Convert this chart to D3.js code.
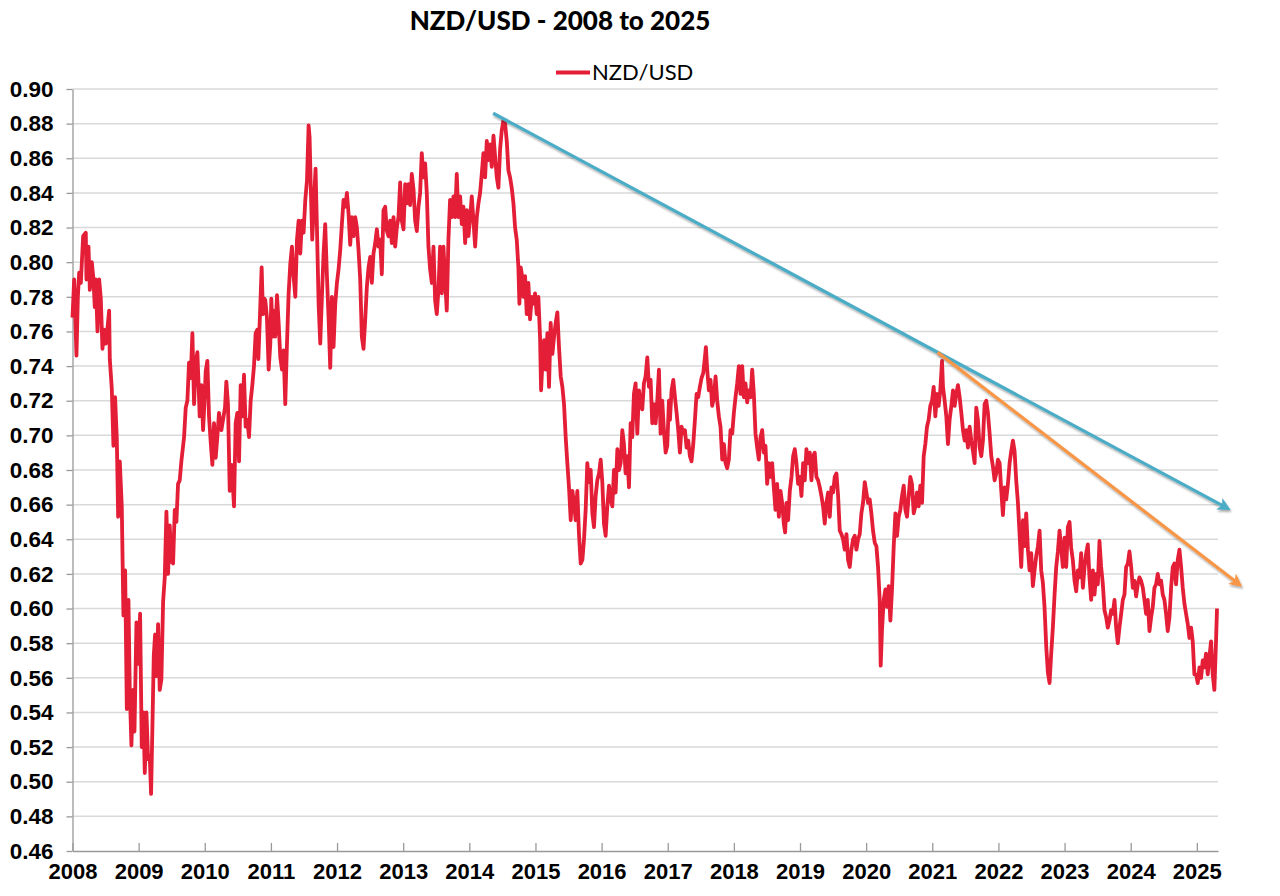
<!DOCTYPE html>
<html>
<head>
<meta charset="utf-8">
<script src="https://cdn.jsdelivr.net/npm/d3@7"></script>
<style>
  html, body { margin: 0; padding: 0; background: #fff; }
  svg { display: block; font-family: Lato, "Open Sans", sans-serif; }
</style>
</head>
<body>
<div id="chart"></div>
<script>
// decimal years
const dates = [
2008.000,2008.025,2008.060,2008.081,2008.101,2008.126,2008.161,2008.201,2008.211,2008.242,2008.262,2008.292,2008.317,2008.337,2008.352,2008.378,2008.403,2008.428,2008.453,2008.478,
2008.504,2008.529,2008.554,2008.564,2008.594,2008.619,2008.644,2008.670,2008.690,2008.715,2008.745,2008.770,2008.796,2008.821,2008.846,2008.866,2008.891,2008.916,2008.937,2008.967,
2008.992,2009.022,2009.047,2009.072,2009.093,2009.118,2009.143,2009.168,2009.188,2009.208,2009.229,2009.249,2009.269,2009.294,2009.319,2009.344,2009.370,2009.395,2009.420,2009.445,
2009.470,2009.495,2009.521,2009.546,2009.571,2009.596,2009.621,2009.646,2009.687,2009.712,2009.737,2009.762,2009.787,2009.813,2009.838,2009.863,2009.888,2009.903,2009.923,2009.949,
2009.974,2009.994,2010.014,2010.039,2010.064,2010.090,2010.115,2010.140,2010.165,2010.190,2010.215,2010.251,2010.276,2010.306,2010.326,2010.351,2010.377,2010.407,2010.442,2010.467,
2010.492,2010.518,2010.543,2010.568,2010.593,2010.618,2010.643,2010.669,2010.694,2010.719,2010.744,2010.769,2010.794,2010.810,2010.835,2010.860,2010.880,2010.900,
2010.915,2010.940,2010.966,2010.991,2011.006,2011.026,2011.041,2011.066,2011.092,2011.117,2011.142,2011.167,2011.192,2011.217,2011.243,2011.268,2011.293,2011.318,2011.343,2011.369,
2011.394,2011.419,2011.444,2011.469,2011.494,2011.520,2011.545,2011.570,2011.585,2011.605,2011.625,2011.650,2011.675,2011.696,2011.721,2011.746,2011.771,2011.796,2011.821,2011.847,
2011.872,2011.897,2011.922,2011.947,2011.973,2011.998,2012.023,2012.048,2012.073,2012.098,2012.124,2012.149,2012.174,2012.199,2012.224,2012.249,2012.275,2012.300,2012.325,2012.350,
2012.375,2012.400,2012.426,2012.451,2012.476,2012.501,2012.526,2012.551,2012.577,2012.602,2012.627,2012.652,2012.677,2012.702,2012.728,2012.753,2012.778,2012.803,2012.828,2012.854,
2012.879,2012.904,2012.929,2012.954,2012.979,2013.005,2013.030,2013.055,2013.080,2013.105,2013.130,2013.156,2013.181,2013.206,2013.231,2013.256,2013.281,2013.307,2013.332,2013.357,
2013.382,2013.407,2013.433,2013.458,2013.483,2013.508,2013.533,2013.558,2013.584,2013.609,2013.634,2013.659,2013.684,2013.709,2013.735,2013.760,2013.785,2013.810,2013.835,
2013.861,2013.886,2013.911,2013.937,2013.962,2013.987,2014.012,2014.037,2014.062,2014.088,2014.113,2014.138,2014.163,2014.188,2014.213,2014.239,2014.264,2014.289,2014.314,2014.339,
2014.365,2014.390,2014.415,2014.440,2014.465,2014.490,2014.516,2014.541,2014.566,2014.591,2014.616,2014.641,2014.667,2014.692,2014.717,2014.742,2014.757,2014.777,2014.798,2014.818,
2014.843,2014.868,2014.893,2014.918,2014.944,2014.969,2014.994,2015.019,2015.044,2015.069,2015.085,2015.105,2015.130,2015.155,2015.180,2015.205,2015.230,2015.256,2015.281,2015.306,
2015.331,2015.356,2015.382,2015.407,2015.432,2015.457,2015.482,2015.507,2015.533,2015.558,2015.583,2015.608,2015.633,2015.658,2015.684,2015.709,2015.734,2015.759,2015.784,2015.810,
2015.835,2015.860,2015.885,2015.910,2015.935,2015.961,2015.986,2016.011,2016.036,2016.061,2016.086,2016.112,2016.137,2016.162,2016.187,2016.212,2016.238,2016.263,2016.288,2016.313,
2016.338,2016.363,2016.389,2016.414,2016.439,2016.464,2016.489,2016.514,2016.540,2016.565,2016.590,2016.615,2016.640,2016.665,2016.691,2016.716,2016.741,2016.766,2016.791,2016.817,
2016.842,2016.867,2016.892,2016.917,2016.942,2016.968,2016.993,2017.018,
2017.033,2017.058,2017.084,2017.109,2017.134,2017.159,2017.184,2017.209,2017.235,2017.260,2017.285,2017.310,2017.335,2017.360,2017.386,2017.411,2017.436,2017.461,2017.486,2017.511,
2017.537,2017.562,2017.577,2017.597,2017.622,2017.647,2017.672,2017.698,2017.723,2017.748,2017.773,2017.798,2017.824,2017.849,2017.874,2017.899,2017.924,2017.949,2017.975,2018.000,
2018.025,2018.050,2018.075,2018.100,2018.126,2018.151,2018.176,2018.201,2018.226,2018.252,2018.277,2018.302,2018.327,2018.352,2018.377,2018.403,2018.428,2018.453,2018.478,2018.503,
2018.528,2018.554,2018.579,2018.604,2018.629,2018.654,2018.680,2018.705,2018.730,2018.755,2018.775,2018.795,2018.820,2018.846,2018.871,2018.896,2018.921,2018.946,2018.971,2018.997,
2019.022,2019.047,2019.072,2019.097,2019.123,2019.148,2019.173,2019.198,2019.223,2019.248,2019.274,2019.299,2019.324,2019.349,2019.374,2019.399,2019.425,2019.450,2019.475,2019.500,
2019.525,2019.551,2019.576,2019.601,2019.626,2019.651,2019.676,2019.702,2019.727,2019.752,2019.777,2019.802,2019.827,2019.853,2019.878,2019.903,
2019.928,2019.953,2019.979,2020.004,2020.029,2020.054,2020.079,2020.104,2020.130,2020.155,2020.180,2020.205,2020.220,2020.240,2020.266,2020.291,2020.316,2020.341,2020.366,2020.391,
2020.417,2020.442,2020.467,2020.492,2020.517,2020.542,2020.568,2020.593,2020.618,2020.643,2020.668,2020.693,2020.719,2020.744,2020.769,2020.794,2020.819,2020.845,2020.870,2020.895,
2020.920,2020.945,2020.970,2020.996,2021.021,2021.046,2021.071,2021.096,2021.121,2021.147,2021.162,2021.187,2021.212,2021.237,2021.262,2021.288,2021.313,2021.338,2021.363,2021.388,
2021.414,2021.439,2021.464,2021.489,2021.514,2021.539,2021.565,2021.590,2021.615,2021.640,2021.665,2021.690,2021.716,2021.741,2021.766,2021.791,2021.816,2021.841,2021.867,2021.892,
2021.917,2021.942,2021.967,2021.992,2022.018,2022.043,2022.068,2022.093,2022.118,2022.144,2022.169,2022.194,2022.219,2022.244,2022.269,2022.295,2022.320,2022.345,2022.370,2022.395,
2022.420,2022.446,2022.471,2022.496,2022.521,2022.546,2022.571,2022.597,2022.622,2022.647,2022.672,2022.697,2022.723,2022.748,2022.773,
2022.798,2022.823,2022.849,2022.874,2022.899,2022.924,2022.949,2022.974,2023.000,2023.025,2023.050,2023.075,2023.100,2023.125,2023.151,2023.176,2023.201,2023.226,2023.251,2023.277,
2023.302,2023.327,2023.352,2023.377,2023.402,2023.428,2023.453,2023.478,2023.503,2023.528,2023.553,2023.579,2023.604,2023.629,2023.654,2023.679,2023.704,2023.730,2023.755,2023.780,
2023.805,2023.830,2023.856,2023.881,2023.906,2023.931,2023.956,2023.981,2024.007,2024.032,2024.057,2024.082,2024.107,2024.132,2024.158,2024.183,2024.208,2024.233,2024.258,2024.284,
2024.309,2024.334,2024.359,2024.384,2024.409,2024.435,2024.460,2024.485,2024.510,2024.535,2024.560,2024.586,2024.611,2024.636,2024.661,2024.686,2024.711,2024.737,2024.762,2024.787,
2024.812,2024.837,2024.863,2024.888,2024.913,2024.938,2024.963,2024.988,2025.014,2025.039,2025.064,2025.089,2025.114,2025.139,2025.165,2025.190,2025.215,2025.240,2025.265,2025.290,
2025.305
];

const nzdusd = [
0.768,0.790,0.746,0.780,0.794,0.788,0.815,0.817,0.790,0.809,0.784,0.800,0.790,0.774,0.790,0.760,0.790,0.779,0.750,0.761,
0.753,0.762,0.772,0.744,0.727,0.694,0.722,0.698,0.653,0.685,0.659,0.596,0.622,0.542,0.605,0.553,0.521,0.553,0.529,0.592,
0.568,0.597,0.520,0.540,0.505,0.540,0.513,0.515,0.493,0.531,0.573,0.585,0.561,0.591,0.553,0.559,0.604,0.618,0.656,0.620,
0.648,0.627,0.626,0.657,0.650,0.672,0.674,0.685,0.699,0.716,0.720,0.742,0.733,0.759,0.718,0.742,0.748,0.733,0.711,0.729,
0.703,0.718,0.737,0.743,0.711,0.696,0.683,0.707,0.687,0.699,0.713,0.703,0.709,0.716,0.731,0.718,0.668,0.683,0.659,0.707,
0.713,0.685,0.729,0.711,0.735,0.705,0.709,0.699,0.720,0.729,0.740,0.759,0.761,0.744,0.770,0.797,0.770,0.779,
0.778,0.768,0.738,0.753,0.779,0.757,0.772,0.757,0.781,0.765,0.745,0.738,0.749,0.718,0.753,0.782,0.799,0.809,0.792,0.780,
0.813,0.824,0.805,0.824,0.817,0.836,0.847,0.879,0.872,0.840,0.813,0.834,0.854,0.820,0.776,0.753,0.780,0.805,0.822,0.792,
0.768,0.739,0.780,0.751,0.776,0.788,0.796,0.807,0.822,0.836,0.832,0.840,0.828,0.810,0.826,0.815,0.826,0.820,0.807,0.790,
0.757,0.750,0.767,0.786,0.797,0.803,0.788,0.805,0.811,0.819,0.809,0.813,0.793,0.830,0.832,0.818,0.815,0.824,0.811,0.826,
0.809,0.820,0.826,0.846,0.824,0.819,0.845,0.834,0.845,0.833,0.851,0.842,0.824,0.818,0.832,0.840,0.863,0.849,0.857,0.840,
0.809,0.796,0.788,0.809,0.778,0.770,0.784,0.809,0.782,0.809,0.790,0.772,0.813,0.836,0.826,0.838,0.826,0.851,0.826,
0.838,0.822,0.832,0.811,0.830,0.815,0.826,0.838,0.824,0.809,0.826,0.834,0.840,0.851,0.863,0.849,0.870,0.859,0.868,0.855,
0.873,0.861,0.849,0.843,0.865,0.876,0.882,0.880,0.870,0.853,0.849,0.843,0.834,0.820,0.813,0.797,0.776,0.797,0.792,0.780,
0.792,0.770,0.788,0.767,0.780,0.776,0.782,0.770,0.780,0.757,0.726,0.742,0.755,0.738,0.759,0.728,0.765,0.747,0.757,0.765,
0.771,0.751,0.734,0.728,0.718,0.699,0.684,0.670,0.651,0.668,0.661,0.651,0.668,0.643,0.626,0.628,0.640,0.657,0.684,0.673,
0.680,0.655,0.647,0.665,0.674,0.678,0.686,0.673,0.649,0.642,0.659,0.671,0.663,0.659,0.680,0.667,0.692,0.680,0.684,0.703,
0.695,0.678,0.688,0.670,0.707,0.699,0.724,0.730,0.701,0.726,0.718,0.715,0.730,0.734,0.745,0.728,0.732,0.707,0.718,0.707,
0.720,0.738,0.701,0.720,0.703,0.690,0.694,0.720,
0.709,0.726,0.732,0.722,0.713,0.703,0.690,0.705,0.701,0.703,0.693,0.697,0.688,0.685,0.695,0.709,0.724,0.722,0.728,0.733,
0.736,0.745,0.751,0.738,0.726,0.732,0.717,0.722,0.734,0.720,0.711,0.705,0.686,0.695,0.684,0.681,0.686,0.703,0.701,0.713,
0.722,0.730,0.740,0.724,0.740,0.722,0.730,0.719,0.726,0.722,0.738,0.724,0.701,0.693,0.686,0.699,0.703,0.690,0.694,0.672,
0.684,0.676,0.684,0.670,0.657,0.672,0.653,0.668,0.661,0.649,0.644,0.661,0.651,0.668,0.676,0.688,0.692,0.684,0.672,0.676,
0.665,0.684,0.674,0.692,0.684,0.690,0.674,0.688,0.690,0.676,0.674,0.670,0.665,0.659,0.649,0.661,0.667,0.653,0.670,0.667,
0.676,0.678,0.665,0.645,0.643,0.640,0.634,0.643,0.628,0.624,0.634,0.640,0.642,0.634,0.640,0.643,
0.655,0.661,0.673,0.667,0.661,0.663,0.655,0.645,0.638,0.636,0.624,0.605,0.567,0.588,0.605,0.611,0.601,0.613,0.593,0.611,
0.636,0.655,0.642,0.653,0.657,0.665,0.671,0.657,0.653,0.665,0.676,0.672,0.655,0.659,0.667,0.659,0.671,0.661,0.688,0.695,
0.705,0.709,0.717,0.720,0.728,0.711,0.724,0.717,0.726,0.743,0.728,0.720,0.711,0.695,0.709,0.717,0.726,0.717,0.724,0.729,
0.722,0.713,0.703,0.697,0.703,0.693,0.705,0.697,0.691,0.684,0.716,0.709,0.693,0.688,0.697,0.718,0.720,0.713,0.701,0.688,
0.682,0.674,0.678,0.686,0.684,0.668,0.654,0.670,0.663,0.672,0.684,0.691,0.697,0.691,0.674,0.661,0.643,0.624,0.651,0.636,
0.655,0.634,0.622,0.632,0.613,0.622,0.630,0.636,0.645,0.622,0.615,0.601,0.578,0.563,0.557,
0.574,0.589,0.608,0.624,0.633,0.645,0.635,0.624,0.641,0.624,0.647,0.650,0.635,0.628,0.616,0.610,0.622,0.618,0.632,0.612,
0.624,0.632,0.637,0.618,0.605,0.622,0.608,0.620,0.614,0.639,0.624,0.614,0.599,0.595,0.589,0.593,0.599,0.597,0.605,0.589,
0.580,0.589,0.597,0.605,0.608,0.624,0.626,0.633,0.624,0.612,0.616,0.607,0.614,0.618,0.616,0.612,0.605,0.597,0.605,0.587,
0.595,0.601,0.612,0.614,0.620,0.614,0.616,0.608,0.605,0.597,0.587,0.595,0.612,0.624,0.626,0.614,0.628,0.634,0.624,0.612,
0.603,0.597,0.591,0.583,0.589,0.581,0.562,0.562,0.557,0.566,0.560,0.570,0.566,0.574,0.562,0.572,0.581,0.562,0.553,0.581,
0.600
];

const yearTicks = d3.range(2008, 2026);
const valueTicks = d3.range(0.46, 0.9001, 0.02);

// hand drawn trend arrows (start, end) in [year, rate]
const trendBlue = [[2014.36, 0.886], [2025.46, 0.658]];
const trendOrange = [[2021.08, 0.748], [2025.64, 0.614]];

const titleText = "NZD/USD - 2008 to 2025";
const seriesName = "NZD/USD";

let w = 1280, h = 896;
let margin = {left: 72.5, right: 1218, top: 89, bottom: 851};

let svg = d3.select("#chart").append("svg")
  .attr("width", w).attr("height", h);

let defs = svg.append("defs");
let shadow = defs.append("filter").attr("id", "shadow")
  .attr("x", "-5%").attr("y", "-5%").attr("width", "110%").attr("height", "120%");
shadow.append("feDropShadow")
  .attr("dx", 1).attr("dy", 2).attr("stdDeviation", 1)
  .attr("flood-color", "#000").attr("flood-opacity", 0.35);

function arrowMarker(id, color) {
  defs.append("marker")
    .attr("id", id)
    .attr("viewBox", "0 0 10 10")
    .attr("refX", 7).attr("refY", 5)
    .attr("markerUnits", "userSpaceOnUse")
    .attr("markerWidth", 15).attr("markerHeight", 13)
    .attr("orient", "auto")
    .append("path")
    .attr("d", "M0,0 L10,5 L0,10 L2.5,5 z")
    .attr("fill", color);
}
arrowMarker("arrowBlue", "#4bacc6");
arrowMarker("arrowOrange", "#f79646");

let x = d3.scaleLinear().domain([2008, 2025.32]).range([margin.left, margin.right]);
let y = d3.scaleLinear().domain([0.46, 0.90]).range([margin.bottom, margin.top]);

// gridlines
svg.append("g")
  .selectAll("line")
  .data(valueTicks.slice(1))
  .enter().append("line")
  .attr("x1", margin.left).attr("x2", margin.right)
  .attr("y1", d => y(d)).attr("y2", d => y(d))
  .attr("stroke", "#d9d9d9").attr("stroke-width", 1.5);

// y axis
let yAxis = d3.axisLeft(y)
  .tickValues(valueTicks)
  .tickFormat(d3.format(".2f"))
  .tickSize(6).tickSizeOuter(0).tickPadding(13);
let gy = svg.append("g")
  .attr("transform", `translate(${margin.left},0)`)
  .call(yAxis);
gy.select(".domain").attr("stroke", "#999").attr("stroke-width", 1.3);
gy.selectAll(".tick line").attr("stroke", "#999").attr("stroke-width", 1.3);
gy.selectAll("text")
  .attr("fill", "#000")
  .style("font-size", "22.5px").style("font-weight", "bold");

// x axis
let xAxis = d3.axisBottom(x)
  .tickValues(yearTicks)
  .tickFormat(d3.format("d"))
  .tickSize(-8).tickSizeOuter(0).tickPadding(12);
let gx = svg.append("g")
  .attr("transform", `translate(0,${margin.bottom})`)
  .call(xAxis);
gx.select(".domain").attr("stroke", "#999").attr("stroke-width", 1.3);
gx.selectAll(".tick line").attr("stroke", "#999").attr("stroke-width", 1.3);
gx.selectAll("text")
  .attr("fill", "#000")
  .style("font-size", "22px").style("font-weight", "bold");

// series
let points = dates.map((d, i) => [d, nzdusd[i]]);
let line = d3.line().x(d => x(d[0])).y(d => y(d[1]));
svg.append("path")
  .datum(points)
  .attr("d", line)
  .attr("fill", "none")
  .attr("stroke", "#e31e36")
  .attr("stroke-width", 3.8)
  .attr("stroke-linejoin", "round");

// trend arrows
svg.append("path")
  .datum(trendBlue)
  .attr("d", line)
  .attr("stroke", "#4bacc6").attr("stroke-width", 3.2)
  .attr("filter", "url(#shadow)")
  .attr("marker-end", "url(#arrowBlue)");
svg.append("path")
  .datum(trendOrange)
  .attr("d", line)
  .attr("stroke", "#f79646").attr("stroke-width", 3.2)
  .attr("filter", "url(#shadow)")
  .attr("marker-end", "url(#arrowOrange)");

// title
svg.append("text")
  .attr("x", 560).attr("y", 30)
  .attr("text-anchor", "middle")
  .style("font-size", "26px").style("font-weight", 900)
  .text(titleText);

// legend
svg.append("line")
  .attr("x1", 556).attr("x2", 590)
  .attr("y1", 72.5).attr("y2", 72.5)
  .attr("stroke", "#e31e36").attr("stroke-width", 3.8);
svg.append("text")
  .attr("x", 592).attr("y", 80)
  .style("font-size", "22px")
  .text(seriesName);
</script>
</body>
</html>
